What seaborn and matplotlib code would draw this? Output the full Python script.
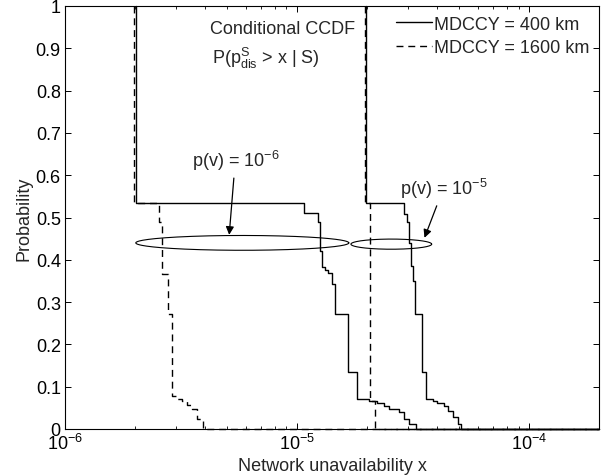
import numpy as np
import pandas as pd
import matplotlib
matplotlib.use("Agg")
import matplotlib.pyplot as plt
from matplotlib.lines import Line2D
from matplotlib.ticker import LogLocator, LogFormatterSciNotation, FixedLocator, FixedFormatter, NullFormatter
import seaborn as sns

# ---------------- data ----------------
series_labels = ["MDCCY = 400 km", "MDCCY = 1600 km"]

# MDCCY = 400 km, p(v) = 1e-6
x_400_a = [2.02e-6, 2.02e-6, 1.07e-5, 1.23e-5, 1.25e-5, 1.28e-5, 1.32e-5, 1.36e-5, 1.41e-5,
           1.45e-5, 1.66e-5, 1.81e-5, 2.05e-5, 2.2e-5, 2.36e-5, 2.48e-5, 2.74e-5, 2.88e-5,
           3.03e-5, 3.27e-5, 2.0e-4]
y_400_a = [1.0, 0.535, 0.511, 0.49, 0.42, 0.383, 0.375, 0.368, 0.343,
           0.272, 0.135, 0.071, 0.066, 0.062, 0.055, 0.047, 0.040, 0.024,
           0.012, 0.0, 0.0]

# MDCCY = 400 km, p(v) = 1e-5
x_400_b = [1.98e-5, 1.98e-5, 2.88e-5, 2.99e-5, 3.03e-5, 3.09e-5, 3.15e-5, 3.21e-5, 3.44e-5,
           3.61e-5, 3.85e-5, 3.99e-5, 4.28e-5, 4.49e-5, 4.72e-5, 4.96e-5, 5.11e-5, 2.0e-4]
y_400_b = [1.0, 0.535, 0.508, 0.49, 0.44, 0.385, 0.35, 0.272, 0.135,
           0.071, 0.067, 0.062, 0.054, 0.043, 0.028, 0.012, 0.0, 0.0]

# MDCCY = 1600 km, p(v) = 1e-6
x_1600_a = [1.98e-6, 1.98e-6, 2.53e-6, 2.63e-6, 2.77e-6, 2.88e-6, 3.02e-6, 3.18e-6, 3.35e-6,
            3.51e-6, 3.69e-6, 3.95e-6, 2.0e-4]
y_1600_a = [1.0, 0.535, 0.49, 0.366, 0.272, 0.078, 0.071, 0.066, 0.056,
            0.047, 0.024, 0.0, 0.0]

# MDCCY = 1600 km, p(v) = 1e-5
x_1600_b = [1.96e-5, 1.96e-5, 2.06e-5, 2.16e-5, 2.0e-4]
y_1600_b = [1.0, 0.535, 0.066, 0.0, 0.0]

# ellipses marking groups: (log10 centre, log10 half-width, y centre, y half-height)
ellipse_groups = [(-5.236, 0.459, 0.44, 0.0175), (-4.594, 0.174, 0.437, 0.012)]

annot_texts = [r"p(v) = $\mathregular{10^{-6}}$", r"p(v) = $\mathregular{10^{-5}}$"]
annot_text_xy = [(5.42e-6, 0.636), (4.28e-5, 0.570)]
annot_arrow_xy = [(5.1e-6, 0.459), (3.54e-5, 0.452)]

y_ticks = [0, 0.1, 0.2, 0.3, 0.4, 0.5, 0.6, 0.7, 0.8, 0.9, 1.0]
y_tick_labels = ["0", "0.1", "0.2", "0.3", "0.4", "0.5", "0.6", "0.7", "0.8", "0.9", "1"]

# ---------------- styling ----------------
FS = 13
sns.set_style("ticks")
plt.rcParams["font.family"] = ["Liberation Sans", "DejaVu Sans"]
plt.rcParams["mathtext.fontset"] = "custom"
plt.rcParams["mathtext.rm"] = "Liberation Sans"
plt.rcParams["mathtext.it"] = "Liberation Sans:italic"
plt.rcParams["mathtext.bf"] = "Liberation Sans:bold"
plt.rcParams["font.size"] = FS
plt.rcParams["axes.unicode_minus"] = True

fig = plt.figure(figsize=(6.08, 4.77), dpi=100)
ax = fig.add_axes([65 / 608, 1 - 430 / 477, (599 - 65) / 608, (430 - 7) / 477])

curves = [
    (x_400_a, y_400_a, series_labels[0]),
    (x_400_b, y_400_b, series_labels[0]),
    (x_1600_a, y_1600_a, series_labels[1]),
    (x_1600_b, y_1600_b, series_labels[1]),
]
styles = {series_labels[0]: "-", series_labels[1]: (0, (5, 3.5))}

for xs, ys, lab in curves:
    df = pd.DataFrame({"x": xs, "y": ys})
    sns.lineplot(data=df, x="x", y="y", ax=ax, estimator=None, sort=False,
                 color="black", linewidth=1.0, linestyle=styles[lab],
                 drawstyle="steps-post", legend=False, clip_on=False)

# ellipses
t = np.linspace(0, 2 * np.pi, 300)
for lc, lw_, yc, hh in ellipse_groups:
    ax.plot(10 ** (lc + lw_ * np.cos(t)), yc + hh * np.sin(t), color="black", linewidth=0.8)

# annotations
for txt, txy, axy in zip(annot_texts, annot_text_xy, annot_arrow_xy):
    ax.annotate(txt, xy=axy, xytext=txy, ha="center", va="center", fontsize=FS,
                arrowprops=dict(arrowstyle="-|>", color="black", lw=0.9,
                                mutation_scale=12, shrinkA=2, shrinkB=0))

ax.text(0.408, 0.946, "Conditional CCDF", transform=ax.transAxes, ha="center", va="center", fontsize=FS)
ax.text(0.376, 0.878, r"P(p$\mathregular{^{S}_{dis}}$ > x | S)", transform=ax.transAxes,
        ha="center", va="center", fontsize=FS)

# axes
ax.set_xscale("log")
ax.set_xlim(1e-6, 2e-4)
ax.set_ylim(0, 1)
ax.xaxis.set_major_locator(LogLocator(base=10, numticks=10))
ax.xaxis.set_major_formatter(LogFormatterSciNotation())
ax.xaxis.set_minor_locator(LogLocator(base=10, subs=np.arange(2, 10), numticks=20))
ax.xaxis.set_minor_formatter(NullFormatter())
ax.yaxis.set_major_locator(FixedLocator(y_ticks))
ax.yaxis.set_major_formatter(FixedFormatter(y_tick_labels))

ax.tick_params(which="both", direction="in", top=True, right=True, colors="black", labelsize=FS)
ax.tick_params(which="major", length=4, width=0.7, pad=3)
ax.tick_params(which="minor", length=2.5, width=0.6)
for s in ax.spines.values():
    s.set_visible(True)
    s.set_color("black")
    s.set_linewidth(0.8)

ax.set_xlabel("Network unavailability x", fontsize=FS, labelpad=3)
ax.set_ylabel("Probability", fontsize=FS, labelpad=2)

handles = [Line2D([], [], color="black", linewidth=1.0, linestyle=styles[l]) for l in series_labels]
ax.legend(handles, series_labels, loc="upper right", bbox_to_anchor=(0.982, 0.977),
          frameon=False, borderaxespad=0, borderpad=0, handlelength=2.0,
          handletextpad=0.1, labelspacing=0.35, fontsize=FS)

fig.savefig("out.png", dpi=100)
